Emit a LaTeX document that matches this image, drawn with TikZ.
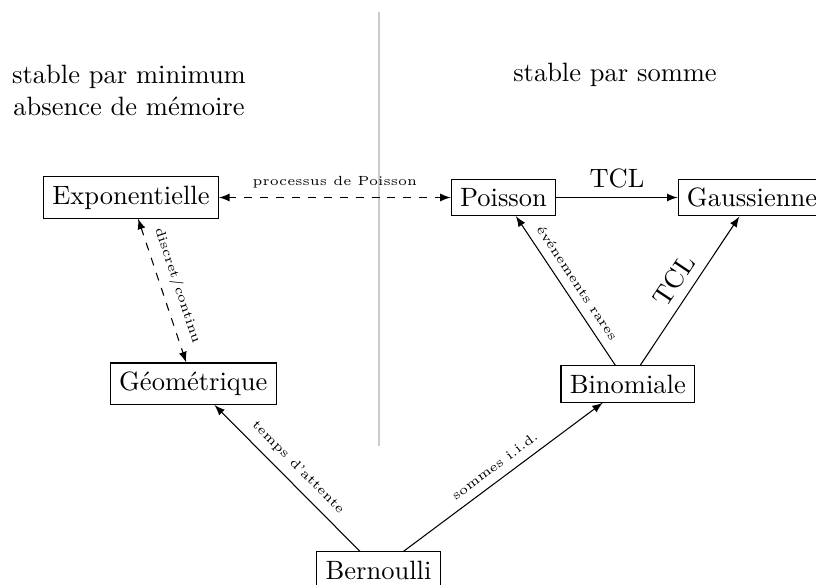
\documentclass[tikz,border=0pt]{standalone}
\begin{document}
\begin{tikzpicture}[x=0.37736pt,y=-0.37736pt,>=latex,
  box/.style={draw, inner sep=3.33pt},
  small/.style={font=\tiny},
  divider/.style={draw=black!20, line width=0.8pt}]
\useasboundingbox (0,0) rectangle (816,584);
% divider
\coordinate (dtop) at (379.3,12);
\coordinate (dbot) at (379.3,445.5);
\draw[divider] (dtop) -- (dbot);
% headings
\node[align=center] (hl) at (129,90.5) {stable par minimum\\absence de m\'emoire};
\node (hr) at (615,75) {stable par somme};
% nodes
\node[box] (E)  at (131,197.5)   {Exponentielle};
\node[box] (P)  at (503.5,197.5) {Poisson};
\node[box] (Ga) at (752,197.5)   {Gaussienne};
\node[box] (Ge) at (193.3,383.7) {G\'eom\'etrique};
\node[box] (Bi) at (627.8,384)   {Binomiale};
\node[box] (Be) at (378.5,570)   {Bernoulli};
% edges
\draw[<->,dashed] (E) -- node[above,small]{processus de Poisson} (P);
\draw[->] (P) -- node[above]{TCL} (Ga);
\draw[<->,dashed] (E) -- node[sloped,above,small]{discret/continu} (Ge);
\draw[->] (Bi) -- node[sloped,above,small]{\'ev\'enements rares} (P);
\draw[->] (Bi) -- node[sloped,above]{TCL} (Ga);
\draw[->] (Be) -- node[sloped,above,small]{temps d'attente} (Ge);
\draw[->] (Be) -- node[sloped,above,small]{sommes i.i.d.} (Bi);
\end{tikzpicture}
\end{document}
